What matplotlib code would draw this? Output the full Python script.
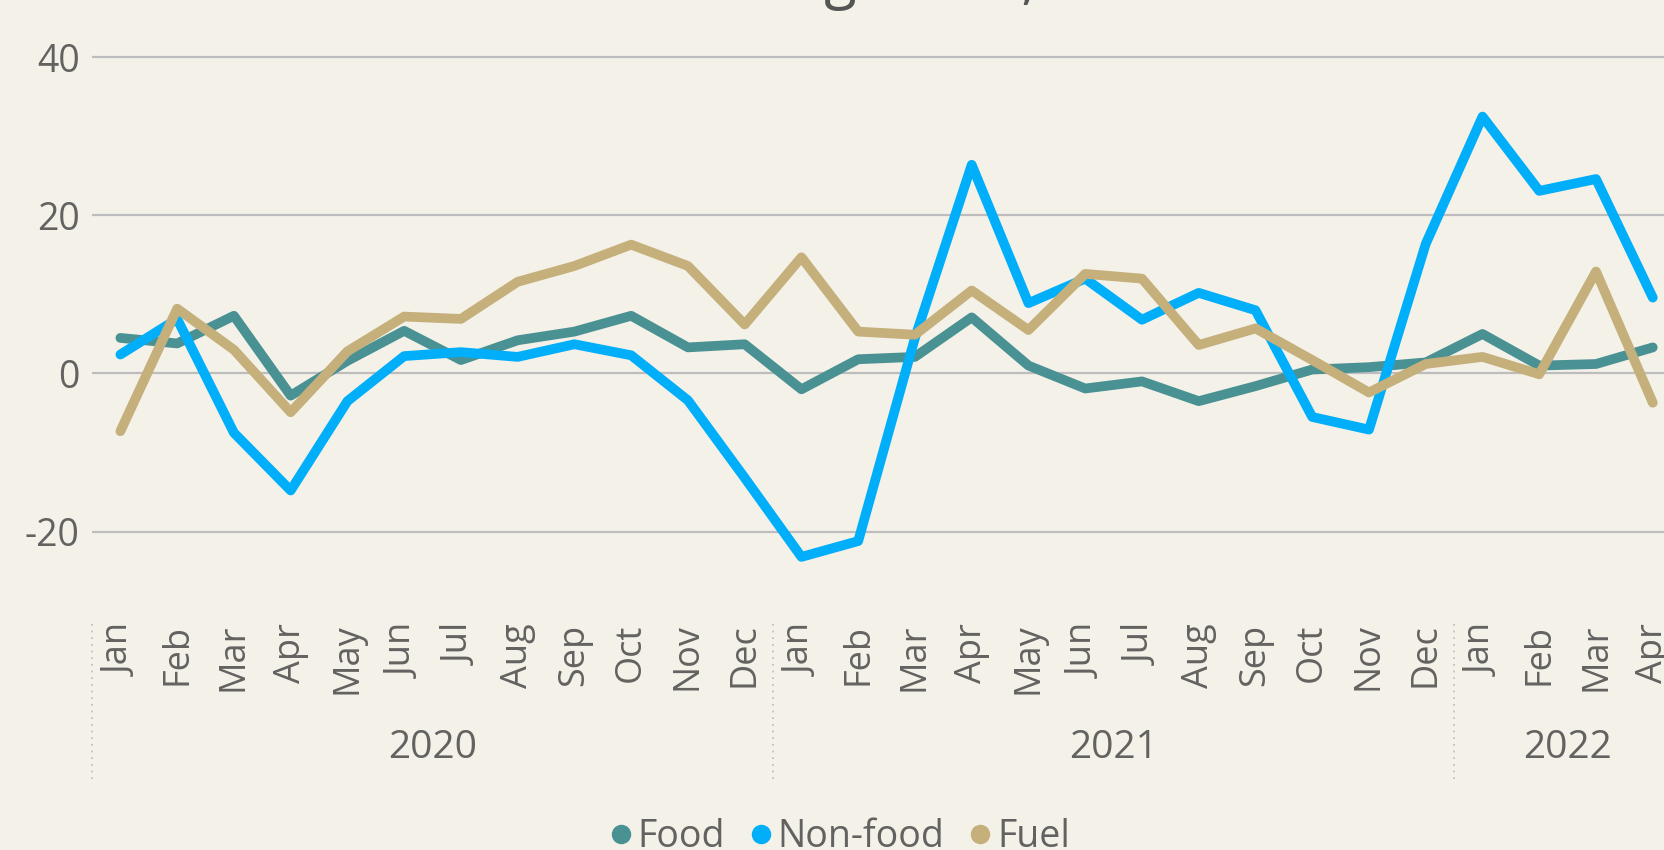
import matplotlib.pyplot as plt
from matplotlib.lines import Line2D

months = ["Jan", "Feb", "Mar", "Apr", "May", "Jun", "Jul", "Aug", "Sep", "Oct", "Nov", "Dec",
          "Jan", "Feb", "Mar", "Apr", "May", "Jun", "Jul", "Aug", "Sep", "Oct", "Nov", "Dec",
          "Jan", "Feb", "Mar", "Apr"]
years = ["2020", "2021", "2022"]
year_start = [0, 12, 24]
year_len = [12, 12, 4]

food = [4.5, 3.8, 7.3, -2.8, 1.6, 5.4, 1.7, 4.2, 5.3, 7.3, 3.3, 3.7,
        -2.0, 1.8, 2.1, 7.1, 1.0, -1.9, -1.0, -3.5, -1.6, 0.5, 0.8, 1.4,
        5.0, 1.0, 1.2, 3.3]
non_food = [2.4, 6.9, -7.5, -14.8, -3.5, 2.2, 2.7, 2.1, 3.7, 2.3, -3.4, -13.2,
            -23.2, -21.2, 4.5, 26.4, 8.9, 12.0, 6.8, 10.2, 8.0, -5.5, -7.1, 16.4,
            32.5, 23.1, 24.6, 9.6]
fuel = [-7.3, 8.2, 3.0, -4.9, 2.8, 7.2, 6.9, 11.6, 13.6, 16.3, 13.6, 6.2,
        14.7, 5.3, 4.9, 10.5, 5.5, 12.6, 12.0, 3.6, 5.7, 1.7, -2.4, 1.2,
        2.1, -0.1, 12.9, -3.7]

series = [("Food", food, "#4A9193"), ("Non-food", non_food, "#01AEF9"), ("Fuel", fuel, "#C5B07B")]

bg = "#F4F1E9"
txt = "#636260"
plt.rcParams["font.family"] = ["Open Sans", "DejaVu Sans"]

fig = plt.figure(figsize=(16.64, 8.5), dpi=100, facecolor=bg)
ax = fig.add_axes([0.0553, 0.2909, 0.955, 0.6603], facecolor=bg)

x = list(range(len(months)))
for name, vals, col in series:
    ax.plot(x, vals, color=col, lw=7, solid_joinstyle="round", solid_capstyle="round", label=name)

ax.set_xlim(-0.5, 27.5)
ax.set_ylim(-29, 42)
ax.set_yticks([-20, 0, 20, 40])
ax.set_yticklabels(["-20", "0", "20", "40"])
ax.yaxis.grid(True, color="#BDBDBD", lw=1.6)
ax.set_axisbelow(True)
for s in ax.spines.values():
    s.set_visible(False)
ax.tick_params(axis="y", length=0, pad=9, labelsize=27, labelcolor=txt)

ax.set_xticks(x)
ax.set_xticklabels(months, rotation=90, va="top", ha="center")
ax.tick_params(axis="x", length=0, pad=15, labelsize=26, labelcolor=txt)

# year groups under the month labels
trans = ax.get_xaxis_transform()
for yr, st, n in zip(years, year_start, year_len):
    ax.plot([st - 0.5, st - 0.5], [-0.038, -0.316], transform=trans, clip_on=False,
            color="#BBBBBB", lw=1.2, ls=(0, (1, 3)))
    ax.text(st - 0.5 + n / 2, -0.259, yr, transform=trans, ha="center", va="center",
            fontsize=28, color=txt)

handles = [Line2D([], [], ls="", marker="o", ms=13, color=c) for _, _, c in series]
fig.legend(handles, [s[0] for s in series], loc="center", bbox_to_anchor=(0.503, 0.015),
           ncol=3, frameon=False, fontsize=27, labelcolor=txt, handletextpad=0.0,
           columnspacing=0.5, handlelength=0.9)

# title sits above the top edge, only its descenders show
fig.text(0.4811, 1.0035, "Retail sales growth, %", ha="center", va="baseline",
         fontsize=43, color="#555555")

fig.savefig("out.png", dpi=100, facecolor=bg)
